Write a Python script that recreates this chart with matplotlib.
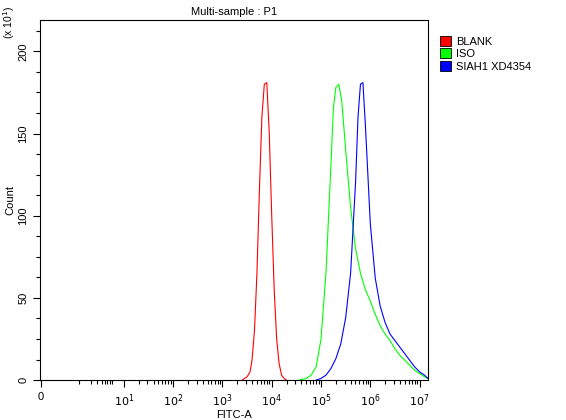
import numpy as np
import matplotlib
matplotlib.use('Agg')
import matplotlib.pyplot as plt
from matplotlib.patches import Patch

# x values are log10(FITC-A); the "0" tick sits at -0.68 on the biexponential scale
red_x = [3.40, 3.50, 3.56, 3.60, 3.65, 3.70, 3.75, 3.80, 3.85, 3.90, 3.95, 4.00, 4.05, 4.10, 4.15, 4.20, 4.25, 4.30]
red_y = [0, 2, 5, 12, 30, 65, 115, 160, 180, 181, 150, 100, 55, 25, 10, 3, 1, 0]

green_x = [4.55, 4.7, 4.8, 4.9, 5.0, 5.1, 5.2, 5.25, 5.3, 5.36, 5.42, 5.5, 5.6, 5.7, 5.8, 5.9, 6.0,
           6.1, 6.2, 6.3, 6.4, 6.5, 6.6, 6.7, 6.8, 6.9, 7.0, 7.1, 7.17]
green_y = [0, 1, 3, 8, 25, 65, 130, 165, 178, 180, 170, 140, 105, 80, 65, 55, 48,
           40, 33, 28, 24, 19, 15, 12, 9, 6, 4, 2, 1]

blue_x = [4.9, 5.0, 5.1, 5.2, 5.3, 5.4, 5.5, 5.6, 5.7, 5.75, 5.8, 5.85, 5.9, 6.0, 6.1, 6.2, 6.3,
          6.4, 6.5, 6.6, 6.7, 6.8, 6.9, 7.0, 7.1, 7.17]
blue_y = [0, 1, 3, 7, 13, 22, 38, 65, 120, 160, 180, 181, 155, 95, 62, 45, 35,
          28, 24, 20, 16, 12, 8, 5, 3, 1]

labels = ['BLANK', 'ISO', 'SIAH1 XD4354']
colors = ['#ff0000', '#00ff00', '#0000ff']

major_pos = [-0.68, 1, 2, 3, 4, 5, 6, 7]
major_lab = ['0'] + [r'$10^{%d}$' % k for k in range(1, 8)]

plt.rcParams['font.family'] = ['Liberation Sans', 'DejaVu Sans']
fig = plt.figure(figsize=(5.66, 4.2), dpi=100)
ax = fig.add_axes([0.0707, 0.095, 0.6855, 0.857])

for xs, ys, c in zip([red_x, green_x, blue_x], [red_y, green_y, blue_y], colors):
    ax.plot(xs, ys, color=c, lw=0.8)

ax.set_xlim(-0.7, 7.17)
ax.set_ylim(0, 219)
ax.set_xticks(major_pos)
ax.set_xticklabels(major_lab, fontsize=8)
minor = [0.087, 0.33, 0.45, 0.55, 0.61, 0.655, 0.716, 0.757]
for d in range(1, 7):
    minor += [d + np.log10(k) for k in range(2, 10)]
ax.set_xticks(minor, minor=True)
ax.set_yticks([0, 50, 100, 150, 200])
ax.set_yticklabels(['0', '50', '100', '150', '200'], fontsize=8, rotation=90, va='center')
ax.set_yticks(np.arange(0, 219, 12.5), minor=True)
ax.tick_params(which='major', length=5, width=0.8)
ax.tick_params(which='minor', length=3, width=0.8)
ax.set_xlabel('FITC-A', fontsize=8, labelpad=1)
ax.set_ylabel('Count', fontsize=8, labelpad=2)
ax.set_title('Multi-sample : P1', fontsize=8, pad=4)
fig.text(0.003, 0.985, r'(x 10$^1$)', rotation=90, fontsize=7.5, va='top')

handles = [Patch(facecolor=c, edgecolor='black', lw=0.6) for c in colors]
fig.legend(handles, labels, loc='upper left', bbox_to_anchor=(0.77, 0.925), frameon=False,
           fontsize=8, handlelength=1.0, handleheight=1.0, handletextpad=0.4,
           labelspacing=0.15, borderaxespad=0)

fig.savefig('out.png', dpi=100)
